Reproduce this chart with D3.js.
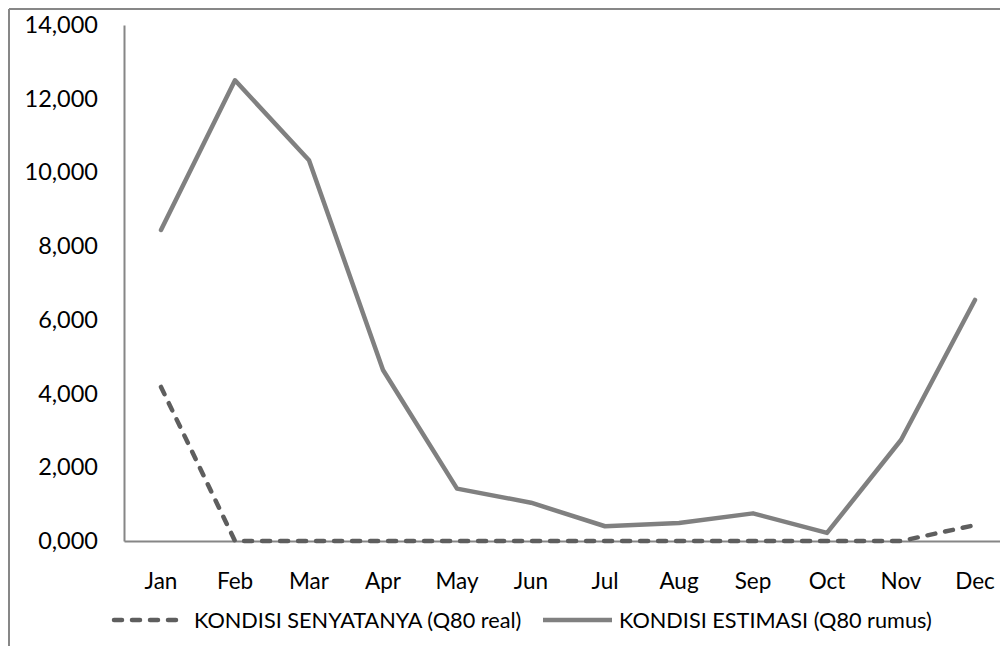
<!DOCTYPE html>
<html><head><meta charset="utf-8">
<script src="https://cdn.jsdelivr.net/npm/d3@7"></script>
<style>
html,body{margin:0;padding:0;background:#fff;}
svg{display:block;font-family:Lato,"Open Sans",sans-serif;}
</style></head>
<body>
<script>
const months = ["Jan","Feb","Mar","Apr","May","Jun","Jul","Aug","Sep","Oct","Nov","Dec"];
const realValues = [4.18,0,0,0,0,0,0,0,0,0,0,0.43];
const estimasiValues = [8.44,12.5,10.33,4.64,1.42,1.04,0.4,0.49,0.75,0.22,2.74,6.54];
const yTicks = [0,2,4,6,8,10,12,14];
const yTickLabels = ["0,000","2,000","4,000","6,000","8,000","10,000","12,000","14,000"];
const seriesNames = ["KONDISI SENYATANYA (Q80 real)","KONDISI ESTIMASI (Q80 rumus)"];

(function(){
const W = 1000, H = 646;
const svg = d3.select("body").append("svg").attr("width", W).attr("height", H);

// outer chart border (cropped)
svg.append("line").attr("x1",9).attr("x2",W).attr("y1",9).attr("y2",9)
  .attr("stroke","#878787").attr("stroke-width",2);
svg.append("line").attr("x1",9).attr("x2",9).attr("y1",9).attr("y2",H)
  .attr("stroke","#878787").attr("stroke-width",2);

const mLeft = 124, mTop = 25, mBottom = 541;
const band = 74;
const x = d3.scaleBand().domain(months).range([mLeft, mLeft + band*months.length]).padding(0);
const y = d3.scaleLinear().domain([0,14]).range([mBottom, mTop]);
const cx = m => x(m) + x.bandwidth()/2;

// y axis
const yAxis = d3.axisLeft(y).tickValues(yTicks)
  .tickFormat((d,i) => yTickLabels[i]).tickSize(0).tickPadding(26);
const gy = svg.append("g").attr("transform", `translate(${mLeft},0)`).call(yAxis);
gy.select(".domain").attr("stroke","#868686").attr("stroke-width",2);
gy.selectAll("text").attr("font-size",23.5).attr("fill","#000").attr("font-family","Lato");

// x axis
const xAxis = d3.axisBottom(x).tickSize(0).tickPadding(32);
const gx = svg.append("g").attr("transform", `translate(0,${mBottom})`).call(xAxis);
gx.select(".domain").attr("stroke","#868686").attr("stroke-width",2);
gx.selectAll("text").attr("font-size",22.5).attr("fill","#000").attr("font-family","Lato");

const line = d3.line().x((d,i) => cx(months[i])).y(d => y(d));

svg.append("path").datum(estimasiValues).attr("d", line)
  .attr("fill","none").attr("stroke","#808080").attr("stroke-width",4.5)
  .attr("stroke-linejoin","round").attr("stroke-linecap","round");

svg.append("path").datum(realValues).attr("d", line)
  .attr("fill","none").attr("stroke","#5e5e5e").attr("stroke-width",4.5)
  .attr("stroke-dasharray","8,10").attr("stroke-linecap","round").attr("stroke-linejoin","round");

// legend
const ly = 620;
const leg = svg.append("g");
leg.append("line").attr("x1",114).attr("x2",176).attr("y1",ly).attr("y2",ly)
  .attr("stroke","#5e5e5e").attr("stroke-width",4.5)
  .attr("stroke-dasharray","8,10").attr("stroke-linecap","round");
leg.append("text").attr("x",194).attr("y",ly).attr("dy","0.35em")
  .attr("font-size",21.7).attr("fill","#000").text(seriesNames[0]);
leg.append("line").attr("x1",543).attr("x2",612).attr("y1",ly).attr("y2",ly)
  .attr("stroke","#808080").attr("stroke-width",4.5);
leg.append("text").attr("x",619).attr("y",ly).attr("dy","0.35em")
  .attr("font-size",21.7).attr("fill","#000").text(seriesNames[1]);
})();
</script>
</body></html>
